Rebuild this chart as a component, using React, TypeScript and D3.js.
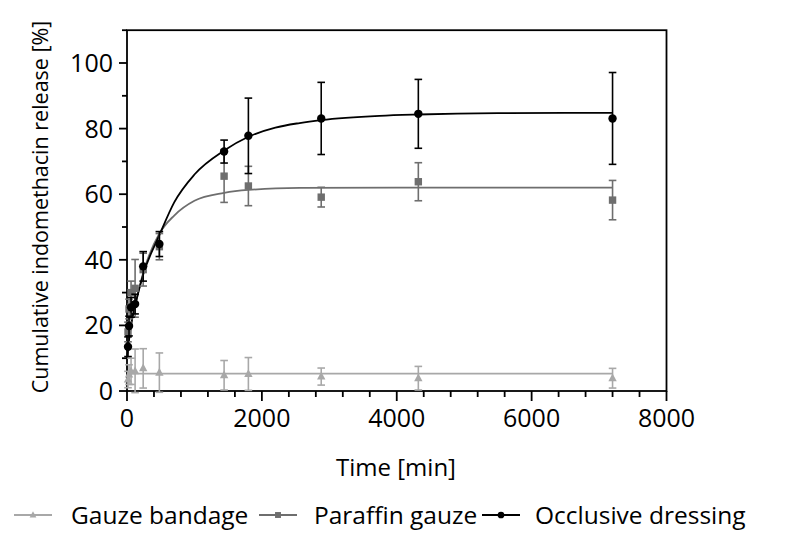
import React from "react";
import * as d3 from "d3";

const times = [15, 30, 60, 120, 240, 480, 1440, 1800, 2880, 4320, 7200];

const gauzeMean = [3.5, 5, 6, 6, 6.9, 5.6, 4.8, 5.2, 4.4, 3.9, 3.9];
const gauzeSD = [2.5, 3, 4, 6.8, 6, 6, 4.5, 5, 2.6, 3.6, 3];

const paraffinMean = [18, 25, 30, 31.3, 37, 44, 65.5, 62.5, 59.1, 63.8, 58.2];
const paraffinSD = [3, 3, 3.5, 8.8, 5, 4, 8, 6, 3, 5.8, 6];

const occlusiveMean = [13.5, 19.8, 25.5, 26.5, 38, 44.8, 73, 77.8, 83.1, 84.5, 83.1];
const occlusiveSD = [3, 3, 3, 3, 4.5, 3.8, 3.5, 11.5, 11, 10.5, 14];

// fitted curves
const gauzeFitT = [0, 7200];
const gauzeFitV = [5.3, 5.3];

const paraffinFitT = [0, 15, 30, 60, 120, 240, 480, 700, 1000, 1440, 1800, 2560, 4000, 7200];
const paraffinFitV = [11, 13, 16, 20.5, 26, 36, 48, 53.5, 58, 60.4, 61.3, 61.9, 62, 62];

const occlusiveFitT = [0, 15, 30, 60, 120, 240, 480, 700, 1000, 1440, 1800, 2200, 2560, 2880, 3745, 4320, 5500, 7200];
const occlusiveFitV = [11, 13, 15.5, 20, 26, 35.5, 47.5, 57.5, 66, 73.3, 77.5, 80.3, 81.7, 82.6, 83.9, 84.3, 84.7, 84.8];

const xTicks = [0, 2000, 4000, 6000, 8000];
const yTicks = [0, 20, 40, 60, 80, 100];

const legendLabels = ["Gauze bandage", "Paraffin gauze", "Occlusive dressing"];

const FONT = "'Open Sans', sans-serif";

type Series = {
  mean: number[];
  sd: number[];
  fitT: number[];
  fitV: number[];
  color: string;
  marker: "tri" | "sq" | "circ";
};

const series: Series[] = [
  { mean: gauzeMean, sd: gauzeSD, fitT: gauzeFitT, fitV: gauzeFitV, color: "#a8a8a8", marker: "tri" },
  { mean: paraffinMean, sd: paraffinSD, fitT: paraffinFitT, fitV: paraffinFitV, color: "#6e6e6e", marker: "sq" },
  { mean: occlusiveMean, sd: occlusiveSD, fitT: occlusiveFitT, fitV: occlusiveFitV, color: "#000000", marker: "circ" },
];

function Marker({ kind, cx, cy, color, s = 1 }: { kind: string; cx: number; cy: number; color: string; s?: number }) {
  if (kind === "circ") return <circle cx={cx} cy={cy} r={4.2 * s} fill={color} />;
  if (kind === "sq") return <rect x={cx - 3.7 * s} y={cy - 3.7 * s} width={7.4 * s} height={7.4 * s} fill={color} />;
  return <path d={`M${cx},${cy - 4.8 * s}L${cx + 4.2 * s},${cy + 3 * s}L${cx - 4.2 * s},${cy + 3 * s}Z`} fill={color} />;
}

export default function App() {
  const W = 805;
  const H = 536;
  const x = d3.scaleLinear().domain([0, 8000]).range([127, 666.5]);
  const y = d3.scaleLinear().domain([0, 110]).range([391, 30.2]);
  const xMinor = d3.range(0, 8001, 400);
  const yMinor = d3.range(0, 111, 10);

  const line = d3
    .line<[number, number]>()
    .x((d) => x(d[0]))
    .y((d) => y(d[1]))
    .curve(d3.curveMonotoneX);

  const legendX = [14, 259, 482];
  const legendTextX = [71, 314, 535];

  return (
    <svg width={W} height={H} style={{ position: "absolute", left: 0, top: 0, background: "#fff" }}>
      <rect x={0} y={0} width={W} height={H} fill="#fff" />
      {/* frame */}
      <rect x={x(0)} y={y(110)} width={x(8000) - x(0)} height={y(0) - y(110)} fill="none" stroke="#000" strokeWidth={1.8} />

      {/* fitted curves */}
      {series.map((s, i) => (
        <path
          key={"fit" + i}
          d={line(s.fitT.map((t, j) => [t, s.fitV[j]] as [number, number])) || ""}
          fill="none"
          stroke={s.color}
          strokeWidth={1.8}
        />
      ))}

      {/* error bars and markers */}
      {series.map((s, i) => (
        <g key={"pts" + i}>
          {times.map((t, j) => {
            const cx = x(t);
            const top = y(s.mean[j] + s.sd[j]);
            const bot = y(Math.max(s.mean[j] - s.sd[j], -0.5));
            return (
              <g key={j}>
                <line x1={cx} x2={cx} y1={top} y2={bot} stroke={s.color} strokeWidth={1.6} />
                <line x1={cx - 3.8} x2={cx + 3.8} y1={top} y2={top} stroke={s.color} strokeWidth={1.6} />
                <line x1={cx - 3.8} x2={cx + 3.8} y1={bot} y2={bot} stroke={s.color} strokeWidth={1.6} />
                <Marker kind={s.marker} cx={cx} cy={y(s.mean[j])} color={s.color} />
              </g>
            );
          })}
        </g>
      ))}

      {/* x axis ticks */}
      {xMinor.map((v) => (
        <line key={"xm" + v} x1={x(v)} x2={x(v)} y1={y(0)} y2={y(0) + (v % 2000 === 0 ? 10 : 6)} stroke="#000" strokeWidth={1.8} />
      ))}
      {xTicks.map((v) => (
        <text key={"xt" + v} x={x(v)} y={427} textAnchor="middle" fontFamily={FONT} fontSize={25} fill="#000">
          {v}
        </text>
      ))}
      {/* y axis ticks */}
      {yMinor.map((v) => (
        <line key={"ym" + v} x1={x(0) - (v % 20 === 0 ? 8 : 5)} x2={x(0)} y1={y(v)} y2={y(v)} stroke="#000" strokeWidth={1.8} />
      ))}
      {yTicks.map((v) => (
        <text key={"yt" + v} x={113} y={y(v) + 9} textAnchor="end" fontFamily={FONT} fontSize={25} fill="#000">
          {v}
        </text>
      ))}

      {/* axis titles */}
      <text x={396} y={476} textAnchor="middle" fontFamily={FONT} fontSize={24} fill="#000">
        Time [min]
      </text>
      <text
        transform={`translate(48,207) rotate(-90)`}
        textAnchor="middle"
        fontFamily={FONT}
        fontSize={21.5}
        fill="#000"
      >
        Cumulative indomethacin release [%]
      </text>

      {/* legend */}
      {series.map((s, i) => (
        <g key={"lg" + i}>
          <line x1={legendX[i]} x2={legendX[i] + 38} y1={515} y2={515} stroke={s.color} strokeWidth={1.8} />
          <Marker kind={s.marker} cx={legendX[i] + 19} cy={515} color={s.color} s={0.8} />
          <text x={legendTextX[i]} y={524} fontFamily={FONT} fontSize={24.5} fill="#000">
            {legendLabels[i]}
          </text>
        </g>
      ))}
    </svg>
  );
}
